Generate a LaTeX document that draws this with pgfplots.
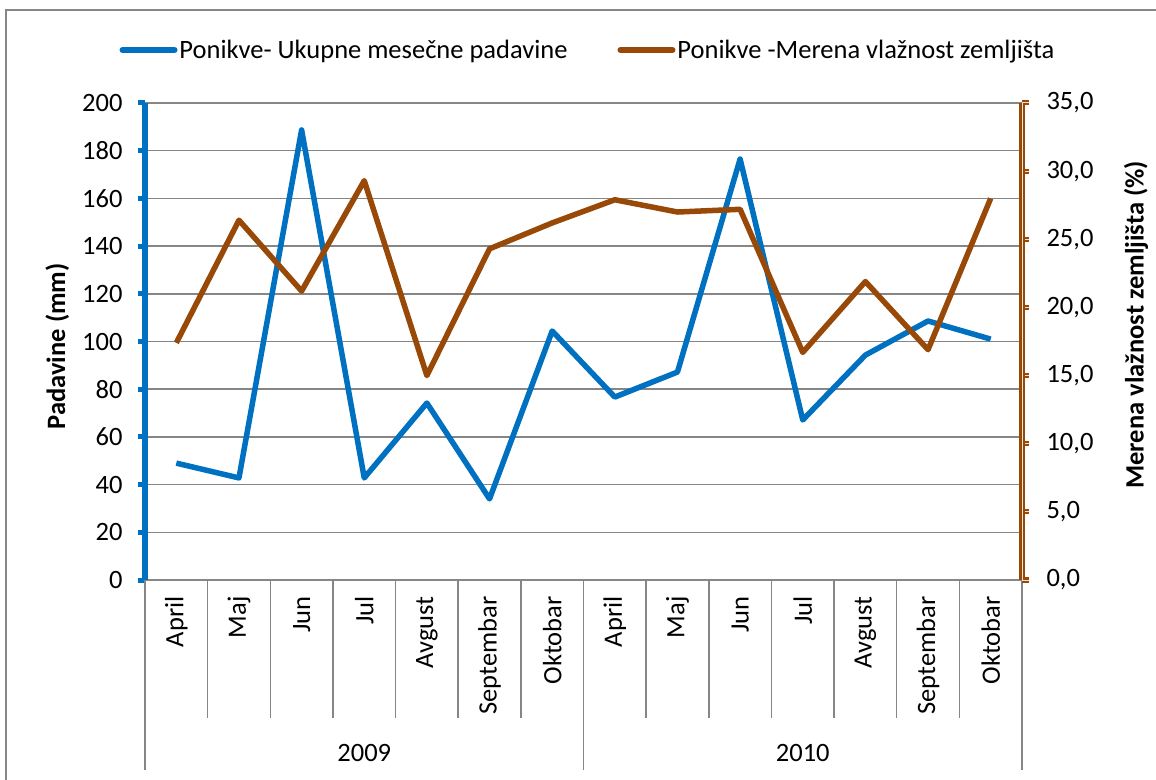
\documentclass[border=0pt]{standalone}
\usepackage{fontspec}
\setmainfont{Carlito}
\usepackage{pgfplots}
\pgfplotsset{compat=1.18}
\definecolor{cblue}{HTML}{0070C0}
\definecolor{cbrown}{HTML}{984807}
\definecolor{cgrid}{HTML}{868686}
\newcommand\cf{\fontsize{26.5bp}{31bp}\selectfont}
\begin{document}
\begin{tikzpicture}
\useasboundingbox (-145bp,-200bp) rectangle (1011bp,580bp);
\draw[cgrid, line width=2bp] (-139bp,-215bp) rectangle (1025bp,570bp);
\begin{axis}[
  scale only axis, width=877bp, height=477bp,
  at={(0,0)}, anchor=south west,
  xmin=0, xmax=14, ymin=0, ymax=200,
  clip=false,
  axis y line*=left, axis x line*=bottom,
  y axis line style={draw=cblue, line width=5.5bp, -},
  x axis line style={draw=cgrid, line width=1.5bp, -},
  ytick={0,20,...,200},
  ymajorgrids, grid style={cgrid, line width=1.5bp},
  tick align=outside, major tick length=7bp,
  ytick style={draw=cblue, line width=5bp},
  xtick={0.5,1.5,...,13.5},
  xticklabels={April,Maj,Jun,Jul,Avgust,Septembar,Oktobar,April,Maj,Jun,Jul,Avgust,Septembar,Oktobar},
  xtick style={draw=none},
  xticklabel shift=6bp,
  xticklabel style={rotate=90, anchor=east, font=\cf},
  yticklabel style={font=\cf, xshift=-12bp, /pgf/number format/assume math mode=true},
  ylabel={\bfseries Padavine (mm)},
  ylabel style={font=\cf, at={(axis description cs:-0.1,0.49)}, anchor=center},
  legend columns=2,
  legend style={draw=none, fill=none, font=\cf, at={(axis description cs:0.505,1)}, anchor=center, yshift=53bp,
    /tikz/every even column/.append style={column sep=48bp}},
  legend image code/.code={\draw[#1, line width=6bp, line cap=round] (0bp,0bp) -- (52bp,0bp);},
]
\addplot[cblue, line width=5.5bp, line join=round] coordinates {
(0.5,49) (1.5,42.8) (2.5,188.7) (3.5,42.8) (4.5,74.2) (5.5,34) (6.5,104.4)
(7.5,76.7) (8.5,87.2) (9.5,176.5) (10.5,67.1) (11.5,94.3) (12.5,108.6) (13.5,101)};
\addlegendentry{Ponikve- Ukupne mesečne padavine}
\addlegendimage{cbrown}
\addlegendentry{Ponikve -Merena vlažnost zemljišta}
\pgfplotsinvokeforeach{1,...,6,8,9,...,13}{\draw[cgrid, line width=1.5bp] (axis cs:#1,0) -- ++(0,-138bp);}
\pgfplotsinvokeforeach{0,7,14}{\draw[cgrid, line width=1.5bp] (axis cs:#1,0) -- ++(0,-190bp);}
\node[font=\cf] at (axis cs:3.5,0) [yshift=-173bp] {2009};
\node[font=\cf] at (axis cs:10.5,0) [yshift=-173bp] {2010};
\end{axis}
\begin{axis}[
  scale only axis, width=877bp, height=477bp,
  at={(0,0)}, anchor=south west,
  xmin=0, xmax=14, ymin=0, ymax=35,
  clip=false,
  axis y line*=right, axis x line=none,
  y axis line style={draw=cbrown, line width=2.2bp, double=white!85!cbrown, double distance=1bp, -},
  ytick={0,5,...,35},
  tick align=outside, major tick length=7bp,
  ytick style={draw=cbrown, line width=2bp, double=white!85!cbrown, double distance=1bp},
  yticklabel style={font=\cf, xshift=14bp, /pgf/number format/assume math mode=true, /pgf/number format/.cd, fixed, fixed zerofill, precision=1, use comma},
  ylabel={\bfseries Merena vlažnost zemljišta (\%)},
  ylabel style={font=\cf, at={(axis description cs:1.13,0.535)}, anchor=center},
]
\addplot[cbrown, line width=5.5bp, line join=round] coordinates {
(0.5,17.4) (1.5,26.4) (2.5,21.2) (3.5,29.3) (4.5,15.0) (5.5,24.3) (6.5,26.2)
(7.5,27.9) (8.5,27.0) (9.5,27.2) (10.5,16.7) (11.5,21.9) (12.5,16.9) (13.5,28.0)};
\end{axis}
\end{tikzpicture}
\end{document}
